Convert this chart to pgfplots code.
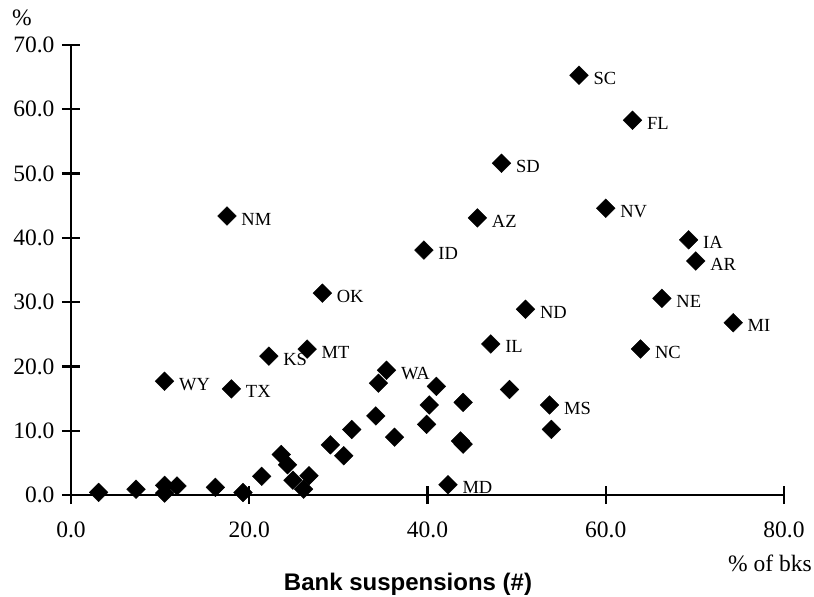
\documentclass[border=0pt]{standalone}
\usepackage{pgfplots}
\pgfplotsset{compat=1.18}
\usepackage{fontspec}
\setmainfont{Liberation Serif}
\newfontfamily\arialfont{Liberation Sans}
\begin{document}
\begin{tikzpicture}
\useasboundingbox (-71pt,-102pt) rectangle (743pt,495pt);
\begin{axis}[
  at={(0pt,0pt)}, anchor=south west,
  scale only axis, width=713pt, height=450pt,
  xmin=0, xmax=80, ymin=0, ymax=70,
  axis lines*=left,
  axis line style={line width=2.4pt, black},
  xtick={0,20,...,80}, ytick={0,10,...,70},
  tick align=center, major tick length=18pt,
  tick style={line width=2.4pt, black},
  tick label style={font=\fontsize{23.5}{23.5}\selectfont},
  yticklabel style={xshift=-4pt},
  xticklabel style={yshift=-14pt},
  /pgf/number format/fixed,
  /pgf/number format/fixed zerofill,
  /pgf/number format/precision=1,
  /pgf/number format/assume math mode=true,
  clip=false,
]
\addplot[only marks, mark=square*, mark size=6.6pt,
  mark options={rotate=45, fill=black, draw=black, line width=0.4pt}]
  table {
x y
3.1 0.4
7.3 0.9
10.5 1.5
10.5 0.3
11.9 1.4
16.2 1.2
19.3 0.4
21.4 2.9
23.6 6.3
24.3 4.7
24.9 2.3
26.7 3.0
26.1 0.9
34.5 17.4
41.0 16.9
49.2 16.4
40.2 14.0
44.0 14.4
34.2 12.3
31.5 10.2
39.9 11.0
53.9 10.2
29.1 7.8
36.3 9.0
43.7 8.4
44.0 7.9
30.6 6.1
};
\addplot[only marks, mark=square*, mark size=6.6pt,
  mark options={rotate=45, fill=black, draw=black, line width=0.4pt},
  nodes near coords, point meta=explicit symbolic,
  nodes near coords style={anchor=west, xshift=11pt, yshift=-3pt, font=\fontsize{18.5}{18.5}\selectfont}]
  table[meta=label] {
x y label
57.0 65.3 SC
63.0 58.3 FL
48.3 51.6 SD
17.5 43.4 NM
45.6 43.1 AZ
60.0 44.6 NV
69.3 39.7 IA
39.6 38.1 ID
70.1 36.4 AR
28.2 31.4 OK
66.3 30.6 NE
51.0 28.9 ND
74.3 26.8 MI
47.1 23.5 IL
63.9 22.7 NC
26.5 22.7 MT
22.2 21.6 KS
10.5 17.7 WY
18.0 16.5 TX
35.4 19.4 WA
53.7 14.0 MS
42.3 1.6 MD
};
\end{axis}
\node[font=\fontsize{23.5}{23.5}\selectfont] at (-49pt,477pt) {\%};
\node[font=\fontsize{23.5}{23.5}\selectfont] at (699pt,-68pt) {\% of bks};
\node[font=\arialfont\bfseries\fontsize{24}{24}\selectfont] at (337pt,-89pt) {Bank suspensions (\#)};
\end{tikzpicture}
\end{document}
